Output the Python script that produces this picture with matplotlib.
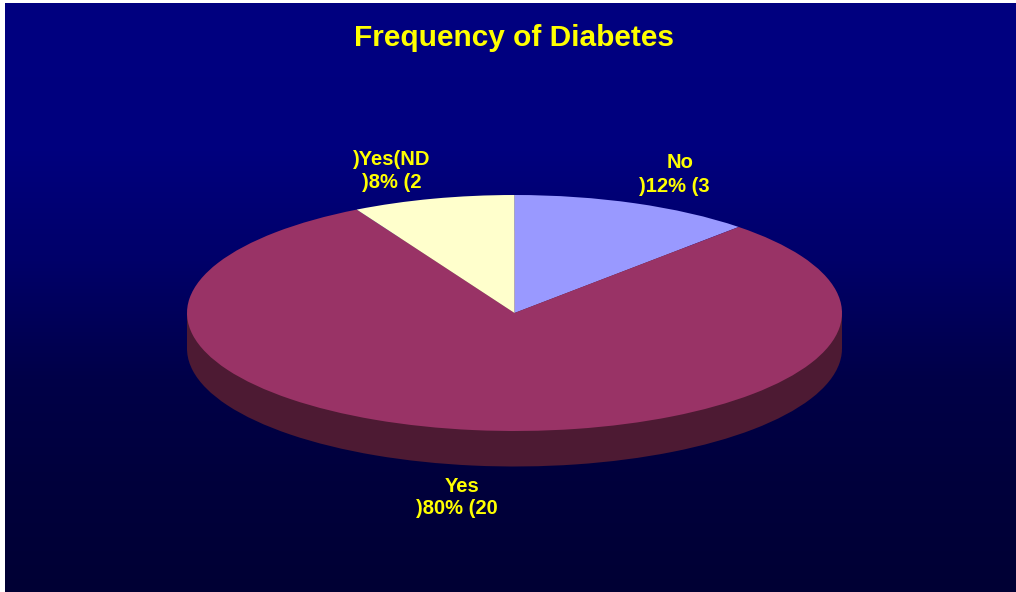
import numpy as np
import matplotlib
matplotlib.use("Agg")
import matplotlib.pyplot as plt

W, H = 1016, 592

# slices go clockwise from twelve o'clock
shares = [12, 80, 8]
slice_colors = ["#9999FF", "#993366", "#FFFFCC"]
wall_color = "#4D1A33"
title = "Frequency of Diabetes"
label_text = ["No", ")12% (3", "Yes", ")80% (20", ")Yes(ND", ")8% (2"]
label_x = [680, 674, 462, 457, 392, 392]
label_y = [163, 186, 486, 509, 159, 182]

plt.rcParams["font.family"] = ["Liberation Sans", "DejaVu Sans"]
fig = plt.figure(figsize=(W / 100, H / 100), dpi=100, facecolor="white")

def px_axes(left, top, right, bottom):
    return fig.add_axes([left / W, 1 - bottom / H, (right - left) / W, (bottom - top) / H])

# background panel, navy on top easing into very dark blue
bg = px_axes(5, 3, 1016, 592)
rows = np.arange(3, 592)
blue = np.interp(rows, [3, 150, 260, 378, 480, 592], [128, 126, 105, 72, 60, 52]) / 255
grad = np.zeros((len(rows), 1, 3))
grad[:, 0, 2] = blue
bg.imshow(grad, aspect="auto", extent=(0, 1, 0, 1), interpolation="nearest")
bg.axis("off")

# pie axes: x and y limits of +-1 span the ellipse, depth hangs below it
cx, cy, rx, ry, depth = 514.5, 313, 327.5, 118, 35.5
ax = px_axes(cx - rx, cy - ry, cx + rx, cy + ry + depth)
d = depth / ry

ax.pie(shares, colors=[wall_color] * 3, startangle=90, counterclock=False,
       radius=1, center=(0, -d), wedgeprops={"linewidth": 0})
ax.fill_between([-1, 1], [0, 0], [-d, -d], color=wall_color, linewidth=0)
ax.pie(shares, colors=slice_colors, startangle=90, counterclock=False,
       radius=1, center=(0, 0), wedgeprops={"linewidth": 0})
ax.set_aspect("auto")
ax.set_xlim(-1, 1)
ax.set_ylim(-1 - d, 1)
ax.axis("off")

fig.text(514.5 / W, 1 - 38 / H, title, color="#FFFF00", fontsize=21.5, fontweight="bold",
         ha="center", va="center")

for txt, x, y in zip(label_text, label_x, label_y):
    fig.text(x / W, 1 - y / H, txt, color="#FFFF00", fontsize=14.5, fontweight="bold",
             ha="center", va="center")

fig.savefig("out.png", dpi=100)
